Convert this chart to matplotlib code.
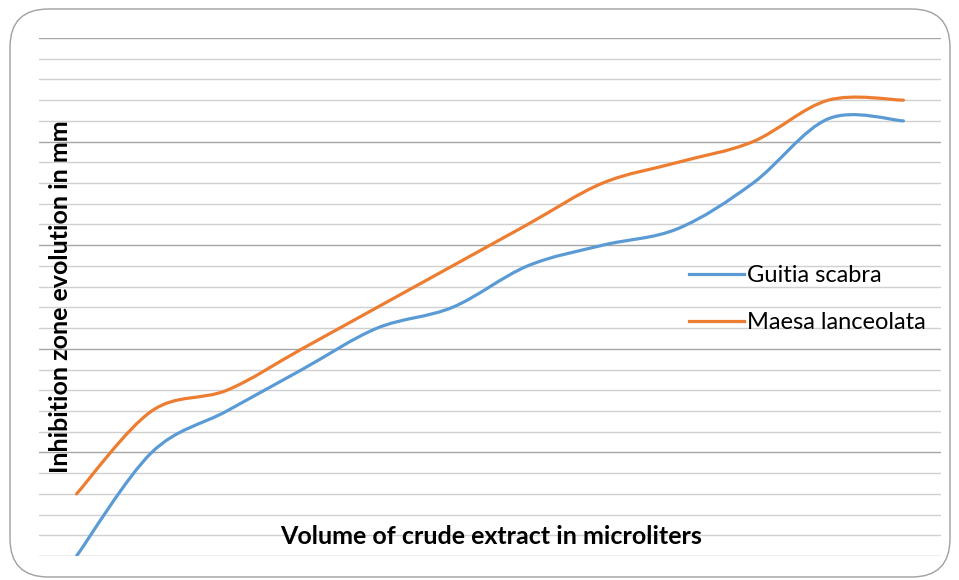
import numpy as np
import matplotlib
matplotlib.use("Agg")
import matplotlib.pyplot as plt
from matplotlib.path import Path
from matplotlib.patches import PathPatch, FancyBboxPatch
from matplotlib.lines import Line2D

# values (units = gridline steps)
categories = list(range(12))
guitia_scabra = [0, 5, 7, 9, 11, 12, 14, 15, 15.8, 18, 21.1, 21]
maesa_lanceolata = [3, 7, 8, 10, 12, 14, 16, 18, 19, 20, 22, 22]
series_names = ["Guitia scabra", "Maesa lanceolata"]
series_colors = ["#5B9BD5", "#ED7D31"]

plt.rcParams['font.family'] = ['Lato', 'DejaVu Sans']


def smooth_path(xs, ys):
    """Excel-like smoothed line: cubic Bezier segments through each point."""
    pts = np.column_stack([xs, ys]).astype(float)
    n = len(pts)
    verts = [pts[0]]
    codes = [Path.MOVETO]
    for i in range(n - 1):
        p0 = pts[i - 1] if i > 0 else pts[i]
        p1 = pts[i]
        p2 = pts[i + 1]
        p3 = pts[i + 2] if i + 2 < n else pts[i + 1]
        c1 = p1 + (p2 - p0) / 6.0
        c2 = p2 - (p3 - p1) / 6.0
        verts += [c1, c2, p2]
        codes += [Path.CURVE4] * 3
    return Path(verts, codes)


fig = plt.figure(figsize=(9.59, 5.80), dpi=100)

# rounded chart border
border = FancyBboxPatch((10 / 959, 3 / 580), 940 / 959, 568 / 580,
                        boxstyle="round,pad=0,rounding_size=0.04",
                        transform=fig.transFigure, facecolor="none",
                        edgecolor="#a0a0a0", linewidth=1.0, zorder=-1,
                        mutation_aspect=959 / 580)
fig.patches.append(border)

ax = fig.add_axes([39 / 959, 24 / 580, 902 / 959, 518 / 580])
ax.set_facecolor("none")
ax.set_xlim(-0.5, len(categories) - 0.5)
ax.set_ylim(0, 25)

# gridlines: minor every step, darker every 5
for y in range(0, 26):
    major = (y % 5 == 0)
    ax.axhline(y, color="#a6a6a6" if major else "#d0d0d0",
               linewidth=1.0, zorder=1)

for vals, col in zip([guitia_scabra, maesa_lanceolata], series_colors):
    ax.add_patch(PathPatch(smooth_path(categories, vals), fill=False,
                           edgecolor=col, linewidth=2.3, capstyle="round",
                           zorder=3))

for s in ax.spines.values():
    s.set_visible(False)
ax.set_xticks([])
ax.set_yticks([])

handles = [Line2D([0], [0], color=c, linewidth=2.3) for c in series_colors]
ax.legend(handles, series_names, loc="upper left",
          bbox_to_anchor=(641 / 902, (556 - 256) / 518),
          frameon=False, fontsize=17, handlelength=2.3, handletextpad=0.15,
          labelspacing=1.1, borderaxespad=0)

fig.text(60 / 959, 1 - 297 / 580, "Inhibition zone evolution in mm",
         rotation=90, ha="center", va="center", fontsize=18,
         fontweight="bold")
fig.text(491 / 959, 1 - 537 / 580, "Volume of crude extract in microliters",
         ha="center", va="center", fontsize=18, fontweight="bold")

fig.savefig("out.png", dpi=100)
